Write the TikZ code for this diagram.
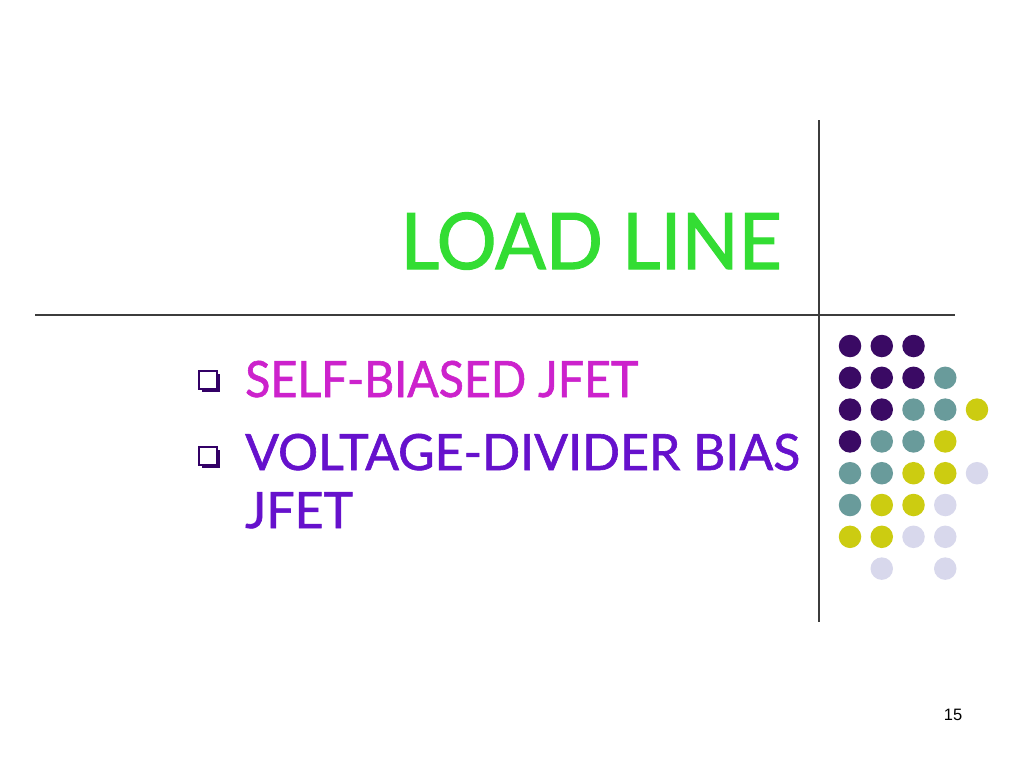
\documentclass[tikz,border=0pt]{standalone}
\usepackage{fontspec}
\setmainfont{Lato}
\newfontfamily\titlefont[FakeBold=1.5,FakeStretch=0.96]{Lato}
\newfontfamily\itemAfont[FakeBold=1.2,FakeStretch=0.93]{Lato}
\newfontfamily\itemBfont[FakeBold=1.2]{Lato}
\newfontfamily\numfont{Liberation Sans}
\usetikzlibrary{shadows}
\definecolor{titlegreen}{RGB}{51,221,51}
\definecolor{itemmagenta}{RGB}{204,34,204}
\definecolor{itemviolet}{RGB}{102,17,204}
\definecolor{bulletpurple}{RGB}{51,0,102}
\definecolor{dotP}{RGB}{58,10,100}
\definecolor{dotT}{RGB}{105,155,155}
\definecolor{dotY}{RGB}{204,204,17}
\definecolor{dotL}{RGB}{216,216,236}
\definecolor{rulegray}{RGB}{60,60,60}
\begin{document}
\begin{tikzpicture}
          [x=1pt,y=-1pt,
           dot/.style={circle, inner sep=0pt, minimum size=22.5pt},
           bul/.style={draw=bulletpurple, fill=white, line width=2.2pt, inner sep=0pt, minimum size=18pt,
             drop shadow={shadow xshift=2.5pt, shadow yshift=-2.5pt, fill=bulletpurple, opacity=1}},
           rule/.style={draw=rulegray, line width=1.2pt}]
        \useasboundingbox[fill=white] (0,0) rectangle (1024,768);

        \coordinate (vtop) at (819,120);
        \coordinate (vbot) at (819,622);
        \coordinate (hleft) at (35,315);
        \coordinate (hright) at (955,315);
        \draw[rule] (vtop) -- (vbot);
        \draw[rule] (hleft) -- (hright);

        \node[anchor=base east, inner sep=0pt, text=titlegreen, font=\titlefont\fontsize{78}{80}\selectfont] (title) at (782,269) {LOAD LINE};

        \node[bul] (bulA) at (208,380) {};
        \node[bul] (bulB) at (208,456) {};
        \node[anchor=base west, inner sep=0pt, text=itemmagenta, font=\itemAfont\fontsize{50}{58}\selectfont] (itemA) at (245,397) {SELF-BIASED JFET};
        \node[anchor=base west, inner sep=0pt, align=left, text=itemviolet, font=\itemBfont\fontsize{50}{58}\selectfont] (itemB) at (245,528) {VOLTAGE-DIVIDER BIAS\\JFET};

        \foreach \c/\r/\k in {1/1/dotP, 2/1/dotP, 3/1/dotP,
            1/2/dotP, 2/2/dotP, 3/2/dotP, 4/2/dotT,
            1/3/dotP, 2/3/dotP, 3/3/dotT, 4/3/dotT, 5/3/dotY,
            1/4/dotP, 2/4/dotT, 3/4/dotT, 4/4/dotY,
            1/5/dotT, 2/5/dotT, 3/5/dotY, 4/5/dotY, 5/5/dotL,
            1/6/dotT, 2/6/dotY, 3/6/dotY, 4/6/dotL,
            1/7/dotY, 2/7/dotY, 3/7/dotL, 4/7/dotL,
            2/8/dotL, 4/8/dotL}
          \node[dot, fill=\k] (d\r\c) at ({850+31.75*(\c-1)},{346+31.8*(\r-1)}) {};

        \node[anchor=base, inner sep=0pt, font=\numfont\fontsize{16.5}{18}\selectfont] (pagenum) at (953,720) {15};
      \end{tikzpicture}
\end{document}
